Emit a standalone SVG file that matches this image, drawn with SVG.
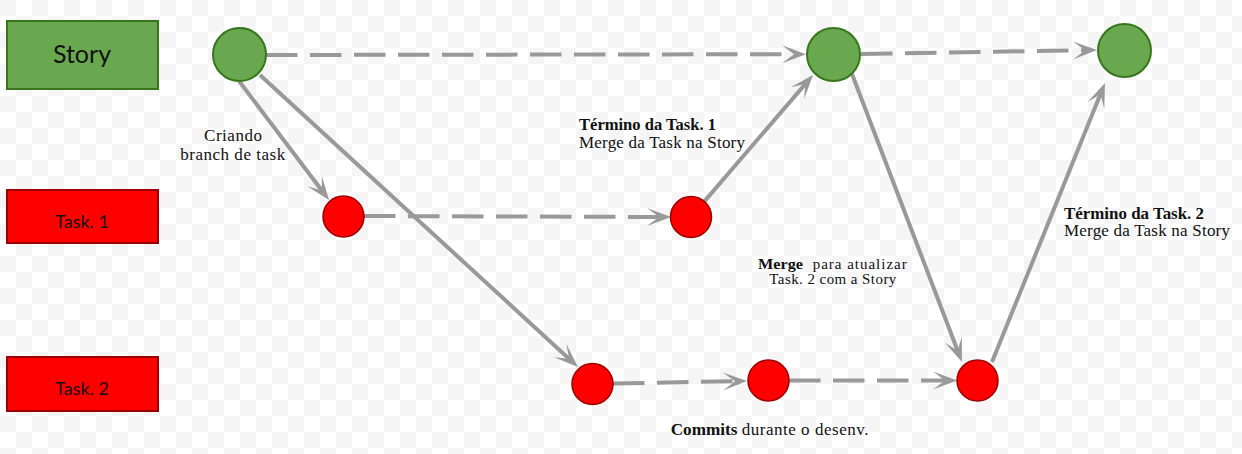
<svg xmlns="http://www.w3.org/2000/svg" width="1242" height="454" viewBox="0 0 1242 454">
<defs>
<pattern id="chk" width="32" height="32" patternUnits="userSpaceOnUse">
<rect width="32" height="32" fill="#ffffff"/>
<rect width="16" height="16" fill="#f5f5f5"/>
<rect x="16" y="16" width="16" height="16" fill="#f5f5f5"/>
</pattern>
<marker id="arr" viewBox="-25 -10 26 20" markerWidth="26" markerHeight="20" refX="-10" refY="0" orient="auto" markerUnits="userSpaceOnUse">
<path d="M0,0 L-24,-9 L-12,0 L-24,9 Z" fill="#999999"/>
</marker>
<style>
.lane{stroke-width:2}
.story{fill:#6aa84f;stroke:#38761d}
.task{fill:#ff0000;stroke:#990000}
.lbl{font-family:Lato,"Noto Sans",sans-serif;fill:#111;text-anchor:middle}
.gc{fill:#6aa84f;stroke:#38761d;stroke-width:2}
.rc{fill:#ff0000;stroke:#990000;stroke-width:1.5}
.e{stroke:#999999;stroke-width:4;fill:none;marker-end:url(#arr)}
.d{stroke-dasharray:31.5 12.5}
.t{font-family:"Liberation Serif","DejaVu Serif",serif;font-size:17px;fill:#111}
.s{font-size:15px}
.b{font-weight:bold}
</style>
</defs>
<rect width="1242" height="454" fill="url(#chk)"/>

<g id="lane-story"><rect class="lane story" x="7" y="21" width="151" height="68"/><text class="lbl" x="82" y="63" font-size="25">Story</text></g>
<g id="lane-task1"><rect class="lane task" x="7" y="190" width="151" height="53"/><text class="lbl" x="82" y="228" font-size="18">Task. 1</text></g>
<g id="lane-task2"><rect class="lane task" x="7" y="357" width="151" height="54"/><text class="lbl" x="82" y="395" font-size="18">Task. 2</text></g>

<g id="connectors">
<line class="e d" x1="266" y1="55" x2="796" y2="54.2"/>
<line class="e d" x1="861" y1="54" x2="1087" y2="50.2"/>
<line class="e" x1="239" y1="81" x2="323" y2="192"/>
<line class="e" x1="260" y1="75" x2="570.6" y2="360.2"/>
<line class="e d" x1="364" y1="216" x2="661" y2="217"/>
<line class="e" x1="704.4" y1="201.4" x2="806.5" y2="82.6"/>
<line class="e" x1="852" y1="74" x2="958.4" y2="352.7"/>
<line class="e" x1="992" y1="362" x2="1101.2" y2="92.3"/>
<line class="e d" x1="613" y1="383.5" x2="737" y2="381.2"/>
<line class="e d" x1="789" y1="380.5" x2="947" y2="380.5"/>
</g>

<g id="s1"><circle class="gc" cx="239.5" cy="54.5" r="26.5"/></g>
<g id="s2"><circle class="gc" cx="833.5" cy="54.5" r="26.5"/></g>
<g id="s3"><circle class="gc" cx="1124.5" cy="50.5" r="26.5"/></g>
<g id="t1a"><circle class="rc" cx="343.5" cy="216.5" r="20.5"/></g>
<g id="t1b"><circle class="rc" cx="691" cy="217" r="20.5"/></g>
<g id="t2a"><circle class="rc" cx="592.5" cy="384" r="20.5"/></g>
<g id="t2b"><circle class="rc" cx="768.5" cy="380.5" r="20.5"/></g>
<g id="t2c"><circle class="rc" cx="977.5" cy="380.5" r="20.5"/></g>

<g id="labels">
<text class="t" x="233" y="141" text-anchor="middle" textLength="58">Criando</text>
<text class="t" x="232.7" y="160" text-anchor="middle" textLength="105">branch de task</text>
<text class="t b" x="579" y="130" textLength="137" lengthAdjust="spacingAndGlyphs">Término da Task. 1</text>
<text class="t" x="579" y="147.5" textLength="166">Merge da Task na Story</text>
<text class="t s" y="268.5"><tspan class="b" x="758" textLength="45" lengthAdjust="spacingAndGlyphs">Merge</tspan><tspan x="812.7" textLength="94">para atualizar</tspan></text>
<text class="t s" x="769.3" y="284.3" textLength="127">Task. 2 com a Story</text>
<text class="t b" x="1064" y="219" textLength="140" lengthAdjust="spacingAndGlyphs">Término da Task. 2</text>
<text class="t" x="1064" y="236" textLength="166">Merge da Task na Story</text>
<text class="t" y="435"><tspan class="b" x="670.7" textLength="66.7" lengthAdjust="spacingAndGlyphs">Commits</tspan><tspan x="741.7" textLength="126.7">durante o desenv.</tspan></text>
</g>
</svg>
